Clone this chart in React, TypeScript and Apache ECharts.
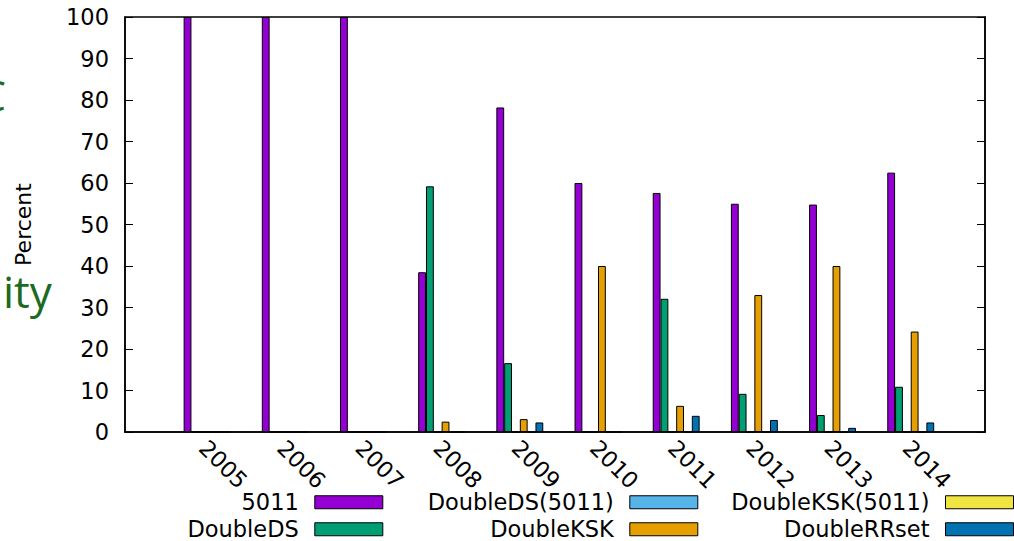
import React, { useEffect, useRef } from "react";
import * as echarts from "echarts";

const years = ["2005", "2006", "2007", "2008", "2009", "2010", "2011", "2012", "2013", "2014"];
const s5011 = [100, 100, 100, 38.5, 78.2, 60, 57.6, 55, 54.8, 62.5];
const sDoubleDS = [0, 0, 0, 59.2, 16.6, 0, 32.1, 9.2, 4.1, 10.9];
const sDoubleDS5011 = [0, 0, 0, 0, 0, 0, 0, 0, 0, 0];
const sDoubleKSK = [0, 0, 0, 2.5, 3.1, 40, 6.3, 33, 40, 24.2];
const sDoubleKSK5011 = [0, 0, 0, 0, 0, 0, 0, 0, 0, 0];
const sDoubleRRset = [0, 0, 0, 0, 2.3, 0, 3.9, 2.9, 1.0, 2.3];
const yTicks = [0, 10, 20, 30, 40, 50, 60, 70, 80, 90, 100];

const seriesDefs = [
  { name: "5011", data: s5011, color: "#9400d3" },
  { name: "DoubleDS", data: sDoubleDS, color: "#009e73" },
  { name: "DoubleDS(5011)", data: sDoubleDS5011, color: "#56b4e9" },
  { name: "DoubleKSK", data: sDoubleKSK, color: "#e69f00" },
  { name: "DoubleKSK(5011)", data: sDoubleKSK5011, color: "#f0e442" },
  { name: "DoubleRRset", data: sDoubleRRset, color: "#0072b2" },
];

const FONT = "DejaVu Sans";
const FS = 22.5;

export default function App() {
  const ref = useRef<HTMLDivElement>(null);
  useEffect(() => {
    if (!ref.current) return;
    const chart = echarts.init(ref.current, undefined, { renderer: "svg" });
    const categories = ["", ...years, ""];
    const pad = (a: number[]) => [null, ...a, null];
    const barW = 7.82;

    const series: any[] = [
      {
        name: "_pad",
        type: "bar",
        data: categories.map(() => null),
        barWidth: barW,
        barGap: "0%",
        silent: true,
      },
      ...seriesDefs.map((s) => ({
        name: s.name,
        type: "bar",
        data: pad(s.data),
        barWidth: barW,
        barGap: "0%",
        itemStyle: { color: s.color, borderColor: "#000", borderWidth: 1 },
      })),
    ];

    const colRight = [630.7, 315.7, 0];
    const rowCenter = [502, 529];
    const legends = seriesDefs.map((s, i) => {
      const col = Math.floor(i / 2);
      const row = i % 2;
      return {
        data: [s.name],
        right: colRight[col],
        top: rowCenter[row] - FS / 2,
        padding: 0,
        align: "right",
        orient: "horizontal",
        selectedMode: false,
        icon: "rect",
        itemWidth: 68,
        itemHeight: 13,
        itemStyle: { borderColor: "#000", borderWidth: 1 },
        textStyle: {
          fontFamily: FONT,
          fontSize: FS,
          color: "#000",
          lineHeight: FS,
          padding: [0, 11, 0, 0],
        },
      };
    });

    chart.setOption({
      animation: false,
      backgroundColor: "#fff",
      grid: {
        left: 125,
        right: 29,
        top: 17,
        bottom: 109,
        show: true,
        borderColor: "#000",
        borderWidth: 1.5,
      },
      legend: legends,
      xAxis: {
        type: "category",
        data: categories,
        boundaryGap: false,
        axisLine: { show: true, lineStyle: { color: "#000", width: 1.5 } },
        axisTick: { show: false },
        splitLine: { show: false },
        axisLabel: {
          interval: 0,
          rotate: -45,
          margin: 12,
          fontFamily: FONT,
          fontSize: FS,
          color: "#000",
        },
      },
      yAxis: [
        {
          type: "value",
          min: 0,
          max: 100,
          interval: 10,
          position: "left",
          name: "Percent",
          nameLocation: "middle",
          nameRotate: 90,
          nameGap: 91,
          nameTextStyle: { fontFamily: FONT, fontSize: 22, color: "#000" },
          axisLine: { show: true, lineStyle: { color: "#000", width: 1.5 } },
          axisTick: { show: true, inside: true, length: 8, lineStyle: { color: "#000" } },
          splitLine: { show: false },
          axisLabel: {
            margin: 16,
            fontFamily: FONT,
            fontSize: FS,
            color: "#000",
            formatter: (v: number) => (yTicks.includes(v) ? String(v) : ""),
          },
        },
        {
          type: "value",
          min: 0,
          max: 100,
          interval: 10,
          position: "right",
          axisLine: { show: true, lineStyle: { color: "#000", width: 1.5 } },
          axisTick: { show: true, inside: true, length: 8, lineStyle: { color: "#000" } },
          splitLine: { show: false },
          axisLabel: { show: false },
        },
      ],
      graphic: [
        {
          type: "text",
          x: 6,
          y: 94,
          style: {
            text: "C",
            font: '42px "Open Sans"',
            fill: "#1b6b22",
            align: "right",
            verticalAlign: "middle",
          },
        },
        {
          type: "text",
          x: 3,
          y: 291,
          style: {
            text: "ity",
            font: '44px "Open Sans"',
            fill: "#1b6b22",
            align: "left",
            verticalAlign: "middle",
          },
        },
      ],
      series,
    });
    return () => chart.dispose();
  }, []);
  return (
    <div
      ref={ref}
      style={{ position: "fixed", left: 0, top: 0, width: 1014, height: 541 }}
    />
  );
}
